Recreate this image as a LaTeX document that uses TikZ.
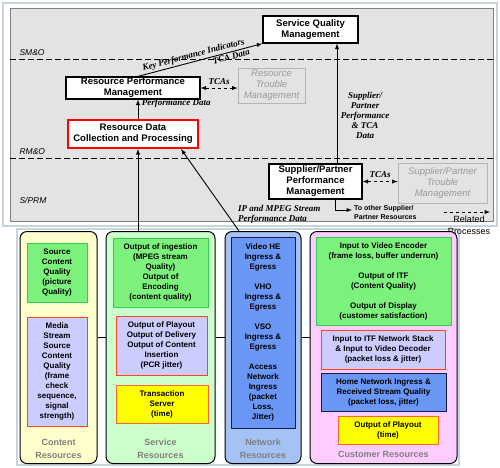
\documentclass[tikz,border=0pt]{standalone}
\usepackage{fontspec}
\setmainfont{Liberation Sans}
\newfontfamily\lblfont{Liberation Serif}
\usepackage{xcolor}
\usepackage{tikz}
\usetikzlibrary{positioning}
\definecolor{panelgray}{HTML}{E3E3E3}
\definecolor{framegray}{HTML}{C8D4DC}
\definecolor{contentyellow}{HTML}{FFFFCC}
\definecolor{servicegreen}{HTML}{CCFFCC}
\definecolor{networkblue}{HTML}{A4C2F4}
\definecolor{customerpink}{HTML}{FFCCFF}
\definecolor{boxgreen}{HTML}{7CF27C}
\definecolor{greenedge}{HTML}{33CC55}
\definecolor{lavender}{HTML}{CCCCFF}
\definecolor{rededge}{HTML}{FF4422}
\definecolor{brightyellow}{HTML}{FFFF00}
\definecolor{orangeedge}{HTML}{FF6633}
\definecolor{boxblue}{HTML}{6A96F5}
\definecolor{navyedge}{HTML}{1A1A4D}
\definecolor{alertred}{HTML}{FF0000}
\definecolor{troublegray}{HTML}{9A9A9A}
\definecolor{troubleedge}{HTML}{B5B5B5}
\definecolor{labelgray}{HTML}{7F7F7F}

\begin{document}
\begin{tikzpicture}[x=1pt, y=-1pt, >=latex,
  mgmt/.style={draw, line width=1.2pt, fill=white, align=center, inner sep=1pt,
    font=\bfseries\fontsize{9.5}{11}\selectfont},
  trouble/.style={draw=troubleedge, line width=0.8pt, text=troublegray, align=center, inner sep=1pt,
    font=\itshape\fontsize{9.5}{11}\selectfont},
  flowlbl/.style={font=\lblfont\bfseries\itshape\fontsize{9}{10}\selectfont},
  flow/.style={line width=0.9pt},
  layerline/.style={line width=1pt, dash pattern=on 6pt off 3pt},
  layerlbl/.style={font=\itshape\fontsize{8.5}{10}\selectfont},
  column/.style={draw, line width=1pt, rounded corners=7pt, anchor=north, minimum height=232pt},
  collbl/.style={text=labelgray, align=center, font=\bfseries\fontsize{9}{13}\selectfont},
  resbox/.style={draw, line width=1pt, align=center, inner sep=1pt,
    font=\bfseries\fontsize{8}{10}\selectfont},
  greenbox/.style={resbox, fill=boxgreen, draw=greenedge},
  lavbox/.style={resbox, fill=lavender, draw=rededge},
  yelbox/.style={resbox, fill=brightyellow, draw=orangeedge},
  bluebox/.style={resbox, fill=boxblue, draw=navyedge}]
\useasboundingbox (0,0) rectangle (500,467);

% process layers
\draw[framegray, line width=1.5pt] (3,3) rectangle (497,226);
\draw[gray, fill=panelgray] (10,8) rectangle (493,221);
\draw[layerline] (10,59) -- (493,59);
\draw[layerline] (10,158) -- (493,158);
\node[layerlbl, anchor=south west] (smo) at (16,59) {SM\&O};
\node[layerlbl, anchor=south west] (rmo) at (16,158) {RM\&O};
\node[layerlbl, anchor=west] (sprm) at (16,200) {S/PRM};

\node[mgmt, minimum width=95pt, minimum height=27pt] (sqm) at (310.5,29.5) {Service Quality\\Management};
\node[mgmt, minimum width=134pt, minimum height=22pt] (rpm) at (133,88) {Resource Performance\\Management};
\node[trouble, minimum width=67pt, minimum height=35pt] (rtm) at (271.5,85.5) {Resource\\Trouble\\Management};
\node[mgmt, draw=alertred, line width=2pt, minimum width=130pt, minimum height=28pt] (rdc) at (133,134) {Resource Data\\Collection and Processing};
\node[mgmt, minimum width=93pt, minimum height=35pt] (sppm) at (315.5,181.5) {Supplier/Partner\\Performance\\Management};
\node[trouble, minimum width=89pt, minimum height=40pt] (sptm) at (442.5,183) {Supplier/Partner\\Trouble\\Management};

\draw[flow, ->] ([xshift=5pt]rpm.north) -- (sqm.south west)
  node[flowlbl, sloped, above, pos=0.46, inner sep=1.5pt] {Key Performance Indicators}
  node[flowlbl, sloped, below, pos=0.74, inner sep=1pt] {TCA Data};
\draw[flow, <->, dashed] (rpm.east) -- (rpm.east -| rtm.west)
  node[flowlbl, midway, above] {TCAs};
\draw[flow, ->] ([xshift=5pt]rdc.north) -- ([xshift=5pt]rpm.south)
  node[flowlbl, pos=0.8, right] {Performance Data};
\draw[flow, ->] ([xshift=21.5pt]sppm.north) -- ([xshift=26.5pt]sqm.south)
  node[flowlbl, pos=0.4, right, align=center] {Supplier/\\Partner\\Performance\\\& TCA\\Data};
\draw[flow, <->, dashed] (sppm.east) -- (sppm.east -| sptm.west)
  node[flowlbl, midway, above] {TCAs};

\coordinate (otherend) at (352,210);
\draw[flow, ->] ([xshift=19.5pt]sppm.south) |- (otherend);
\node[anchor=north west, align=left, inner sep=1pt, font=\bfseries\fontsize{7}{9.5}\selectfont] (othertxt) at (353,204) {To other Supplier/\\Partner Resources};
\node[flowlbl, anchor=north west, align=left, inner sep=1pt] (ipdata) at (237,204) {IP and MPEG Stream\\Performance Data};

\coordinate (relstart) at (444,212);
\coordinate (relend) at (490,212);
\draw[flow, ->, dashed] (relstart) -- (relend);

% resources
\draw[framegray, line width=1.5pt] (17,229) rectangle (459,465);
\node[align=center, inner sep=1pt, font=\fontsize{9}{12}\selectfont] (relproc) at (469,225) {Related\\Processes};

\node[column, fill=contentyellow, minimum width=77pt] (content) at (58.5,231) {};
\node[column, fill=servicegreen, minimum width=109pt] (service) at (160.5,231) {};
\node[column, fill=networkblue, minimum width=76pt] (network) at (263,231) {};
\node[column, fill=customerpink, minimum width=147pt] (customer) at (383.5,231) {};

\draw[line width=1pt] ([yshift=10pt]content.east) -- ([yshift=10pt]service.west);
\draw[line width=1pt] ([yshift=10pt]service.east) -- ([yshift=10pt]network.west);
\draw[line width=1pt] ([yshift=10pt]network.east) -- ([yshift=10pt]customer.west);

\draw[flow, ->] ([xshift=-22.5pt]service.north) -- ([xshift=5pt]rdc.south);
\draw[flow, ->] ([xshift=-24pt]network.north) -- ([xshift=-18pt]rdc.south east);

\node[collbl] (contentlbl) at (58.5,448.5) {Content\\Resources};
\node[collbl] (servicelbl) at (160.5,448.5) {Service\\Resources};
\node[collbl] (networklbl) at (263,448.5) {Network\\Resources};
\node[collbl] (customerlbl) at (383.5,454) {Customer Resources};

% content resources
\node[greenbox, minimum width=60pt, minimum height=59pt] (srcquality) at (57,272.5) {Source\\Content\\Quality\\(picture\\Quality)};
\node[lavbox, minimum width=60pt, minimum height=109pt] (mediastream) at (57,371.5) {Media\\Stream\\Source\\Content\\Quality\\(frame\\check\\sequence,\\signal\\strength)};

% service resources
\node[greenbox, minimum width=95pt, minimum height=69pt] (ingestion) at (160.5,272.5) {Output of ingestion\\(MPEG stream\\Quality)\\Output of\\Encoding\\(content quality)};
\node[lavbox, minimum width=91pt, minimum height=59pt] (playout) at (161.5,345.5) {Output of Playout\\Output of Delivery\\Output of Content\\Insertion\\(PCR jitter)};
\node[yelbox, minimum width=92pt, minimum height=38pt] (transaction) at (162,404) {Transaction\\Server\\(time)};

% network resources
\node[bluebox, minimum width=64pt, minimum height=191pt] (ingress) at (263,332.5) {Video HE\\Ingress \&\\Egress\\[10pt]VHO\\Ingress \&\\Egress\\[10pt]VSO\\Ingress \&\\Egress\\[10pt]Access\\Network\\Ingress\\(packet\\Loss,\\Jitter)};

% customer resources
\node[greenbox, minimum width=135pt, minimum height=88pt] (encoder) at (383.5,281) {Input to Video Encoder\\(frame loss, buffer underrun)\\[10pt]Output of ITF\\(Content Quality)\\[10pt]Output of Display\\(customer satisfaction)};
\node[lavbox, minimum width=124pt, minimum height=39pt] (itfstack) at (383,349.5) {Input to ITF Network Stack\\\& Input to Video Decoder\\(packet loss \& jitter)};
\node[bluebox, minimum width=125pt, minimum height=38pt] (homenet) at (383.5,392) {Home Network Ingress \&\\Received Stream Quality\\(packet loss, jitter)};
\node[yelbox, minimum width=100pt, minimum height=28pt] (custplayout) at (388,430) {Output of Playout\\(time)};
\end{tikzpicture}
\end{document}
